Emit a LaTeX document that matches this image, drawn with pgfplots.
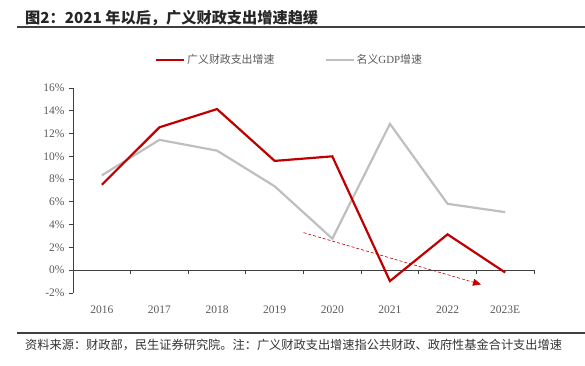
\documentclass[border=0pt]{standalone}
\usepackage{pgfplots}
\pgfplotsset{compat=1.18}
\usepackage{fontspec}
\setmainfont{Liberation Serif}
\newfontfamily\cjk{Noto Sans CJK SC}
\usetikzlibrary{arrows.meta}
\definecolor{myred}{HTML}{C00000}
\definecolor{mygray}{HTML}{BFBFBF}
\definecolor{axgray}{HTML}{595959}
\definecolor{linegray}{HTML}{404040}
\begin{document}
\begin{tikzpicture}[x=1pt,y=1pt]
\path[use as bounding box] (0,0) rectangle (585,365);
\node[anchor=west, font=\cjk\bfseries\fontsize{15.2}{17}\selectfont, text=black!85, inner sep=0pt] at (25,347) {图2：2021 年以后，广义财政支出增速趋缓};
\draw[linegray, line width=1.5pt] (17,338) -- (585,338);
\draw[linegray, line width=1.5pt] (17,32) -- (585,32);
\node[anchor=west, font=\cjk\fontsize{12.2}{14}\selectfont, text=black!80, inner sep=0pt] at (25,20) {资料来源：财政部，民生证券研究院。注：广义财政支出增速指公共财政、政府性基金合计支出增速};
\begin{axis}[
  at={(73pt,72pt)}, anchor=south west, scale only axis,
  width=461pt, height=205pt,
  xmin=-0.5, xmax=7.5, ymin=-2, ymax=16,
  axis y line*=left, axis x line*=bottom,
  x axis line style={draw=none},
  y axis line style={linegray, line width=0.9pt},
  xtick={0,...,7},
  xticklabels={2016,2017,2018,2019,2020,2021,2022,2023E},
  xtick style={draw=none},
  ytick={-2,0,...,16},
  yticklabel={\pgfmathprintnumber{\tick}\%},
  /pgf/number format/assume math mode=true,
  tick align=outside,
  ytick style={linegray, line width=0.9pt},
  major tick length=4pt,
  yticklabel style={font=\fontsize{11.5}{12}\selectfont, text=axgray, xshift=-1pt},
  xticklabel style={font=\fontsize{11.5}{12}\selectfont, text=axgray, yshift=-5pt},
  legend style={at={(0.171,1.137)}, anchor=west, draw=none, fill=none, legend columns=2,
    font=\cjk\fontsize{10.9}{12}\selectfont, text=axgray,
    /tikz/every even column/.append style={column sep=48pt}},
  legend cell align=left,
  legend image code/.code={\draw[#1] (0pt,0pt) -- (28pt,0pt);},
  clip=false,
]
\addlegendimage{myred, line width=2.2pt}
\addlegendentry{广义财政支出增速}
\addlegendimage{mygray, line width=2.2pt}
\addlegendentry{名义{\rmfamily GDP}增速}
\draw[linegray, line width=1.2pt] (axis cs:-0.5,0) -- (axis cs:7.5,0);
\pgfplotsinvokeforeach{-0.5,0.5,1.5,2.5,3.5,4.5,5.5,6.5,7.5}{
  \draw[linegray, line width=0.9pt] (axis cs:#1,0) -- ++(0pt,-4pt);
}
\addplot[mygray, line width=2.2pt, forget plot] coordinates {(0,8.33)(1,11.45)(2,10.5)(3,7.37)(4,2.77)(5,12.85)(6,5.83)(7,5.1)};
\addplot[myred, line width=2.2pt, forget plot] coordinates {(0,7.5)(1,12.55)(2,14.15)(3,9.6)(4,10.0)(5,-0.95)(6,3.15)(7,-0.2)};
\addplot[myred, densely dashed, line width=0.6pt, -{Triangle[length=8pt,width=7pt]}, forget plot] coordinates {(3.5,3.3)(6.58,-1.25)};
\end{axis}
\end{tikzpicture}
\end{document}
